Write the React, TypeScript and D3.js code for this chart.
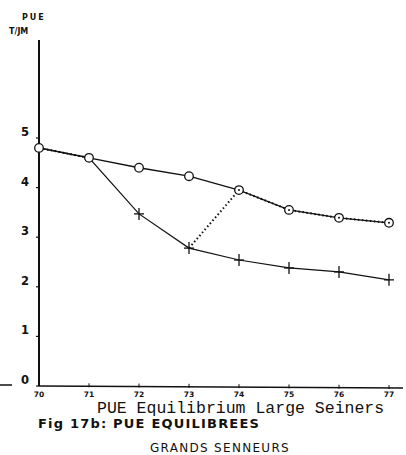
import React from "react";
import * as d3 from "d3";

const years = [70, 71, 72, 73, 74, 75, 76, 77];
const observed = [4.8, 4.6, 4.4, 4.23, 3.95, 3.55, 3.39, 3.29];
const equilibrium = [4.8, 4.6, 3.47, 2.78, 2.54, 2.38, 2.3, 2.14];
const linked: (number | null)[] = [4.8, 4.6, null, 2.78, 3.95, 3.55, 3.39, 3.29];
const yTicks = [0, 1, 2, 3, 4, 5];
const xTickLabels = ["70", "71", "72", "73", "74", "75", "76", "77"];

const W = 406;
const H = 455;

export default function App() {
  const x = d3.scaleLinear().domain([70, 77]).range([39, 389]);
  const y = d3.scaleLinear().domain([0, 5]).range([386, 138]);
  const line = d3
    .line<number>()
    .x((_, i) => x(years[i]))
    .y((d) => y(d));
  const dotted = d3
    .line<number | null>()
    .defined((d) => d !== null)
    .x((_, i) => x(years[i]))
    .y((d) => y(d as number));
  const ink = "#111";
  const sans = "'DejaVu Sans', 'Liberation Sans', sans-serif";
  return (
    <svg
      width={W}
      height={H}
      style={{ position: "absolute", left: 0, top: 0, background: "#fff" }}
    >
      <rect width={W} height={H} fill="#fff" />
      {/* axes */}
      <line x1={x(70)} x2={x(70)} y1={40} y2={y(0)} stroke={ink} strokeWidth={2} />
      <line x1={x(70)} x2={403} y1={y(0)} y2={y(0) + 2} stroke={ink} strokeWidth={1.5} />
      <line x1={0} x2={12} y1={y(0) - 1} y2={y(0) - 1} stroke={ink} strokeWidth={1.5} />
      {yTicks.map((t) => (
        <g key={t}>
          <line x1={x(70) - 3} x2={x(70)} y1={y(t)} y2={y(t)} stroke={ink} strokeWidth={1.2} />
          <text
            x={x(70) - 10}
            y={y(t) - 2}
            textAnchor="end"
            fontFamily={sans}
            fontWeight="bold"
            fontSize={11.5}
            fill={ink}
          >
            {t}
          </text>
        </g>
      ))}
      {years.map((yr, i) => (
        <g key={yr}>
          {i > 0 && (
            <line x1={x(yr)} x2={x(yr)} y1={y(0) - 3 + (i * 2) / 7} y2={y(0) + 1 + (i * 2) / 7} stroke={ink} strokeWidth={1} />
          )}
          <text
            x={x(yr)}
            y={y(0) + 11}
            textAnchor="middle"
            fontFamily={sans}
            fontWeight="bold"
            fontSize={7.5}
            fill={ink}
          >
            {xTickLabels[i]}
          </text>
        </g>
      ))}
      {/* axis title */}
      <text x={22} y={20} fontFamily={sans} fontWeight="bold" fontSize={8} letterSpacing={2} fill={ink}>
        PUE
      </text>
      <text x={9} y={34} fontFamily={sans} fontWeight="bold" fontSize={8} fill={ink}>
        T/JM
      </text>
      {/* lines */}
      <path d={line(equilibrium) || ""} fill="none" stroke={ink} strokeWidth={1.2} />
      <path d={line(observed) || ""} fill="none" stroke={ink} strokeWidth={1.3} />
      <path
        d={dotted(linked) || ""}
        fill="none"
        stroke={ink}
        strokeWidth={2}
        strokeDasharray="1.5,2.5"
      />
      {/* markers */}
      {equilibrium.map((v, i) =>
        i < 2 ? null : (
          <g key={"c" + i} stroke={ink} strokeWidth={1.3}>
            <line x1={x(years[i]) - 5} x2={x(years[i]) + 5} y1={y(v)} y2={y(v)} />
            <line x1={x(years[i])} x2={x(years[i])} y1={y(v) - 6} y2={y(v) + 6} />
          </g>
        )
      )}
      {observed.map((v, i) => (
        <g key={"o" + i}>
          <circle cx={x(years[i])} cy={y(v)} r={4.3} fill="#fff" stroke={ink} strokeWidth={1.3} />
          {i >= 4 && <circle cx={x(years[i])} cy={y(v)} r={1} fill={ink} />}
        </g>
      ))}
      {/* captions */}
      <text
        x={97}
        y={413}
        fontFamily="'Liberation Mono', 'DejaVu Sans Mono', monospace"
        fontSize={16.5}
        fill={ink}
      >
        PUE Equilibrium Large Seiners
      </text>
      <text x={38} y={428} fontFamily={sans} fontWeight="bold" fontSize={13} letterSpacing={1.2} fill={ink}>
        Fig 17b: PUE  EQUILIBREES
      </text>
      <text x={150} y={452} fontFamily={sans} fontSize={12} letterSpacing={1.3} fill={ink}>
        GRANDS SENNEURS
      </text>
    </svg>
  );
}
